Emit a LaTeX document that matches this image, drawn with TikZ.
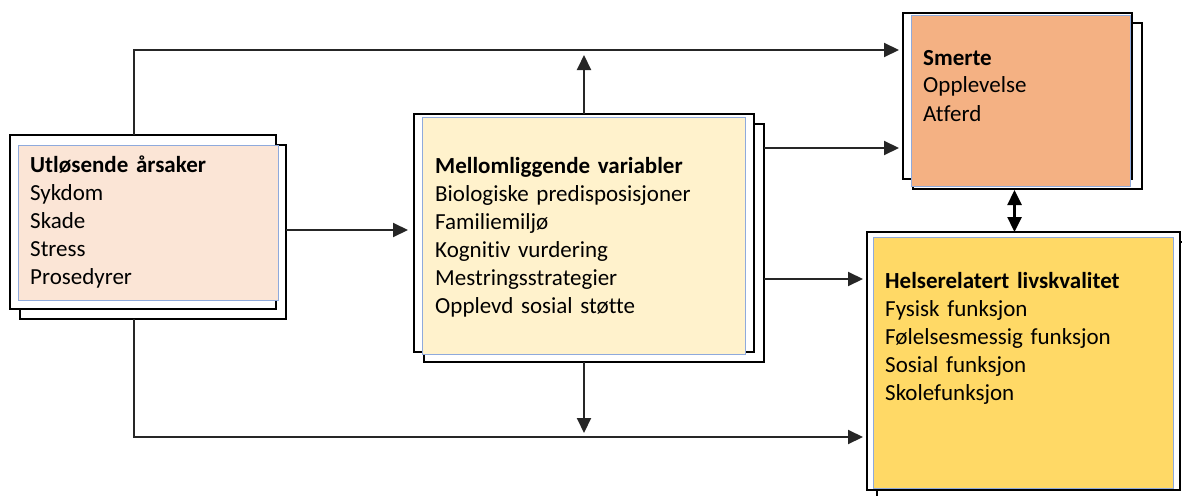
\documentclass[tikz,border=0pt]{standalone}
\usepackage{fontspec}
\setmainfont{Carlito}[Ligatures=NoCommon]
\usetikzlibrary{arrows.meta,calc,shadows}
\definecolor{peachfill}{HTML}{FBE5D6}
\definecolor{creamfill}{HTML}{FFF2CC}
\definecolor{orangefill}{HTML}{F4B183}
\definecolor{goldfill}{HTML}{FFD966}
\definecolor{innerline}{HTML}{8FAADC}

\begin{document}
\begin{tikzpicture}[x=1pt,y=-1pt,
	>={Triangle[length=15pt,width=14pt]},
	frame/.style={draw=black,line width=2.5pt,fill=white,inner sep=0pt,outer sep=0pt,anchor=north west,
		copy shadow={shadow xshift=10pt,shadow yshift=-10pt,line width=2.5pt}},
	inbox/.style={draw=innerline,line width=0.8pt,inner sep=0pt,outer sep=0pt,anchor=north west},
	boxtext/.style={anchor=base west,inner sep=0pt,align=left,text width=300pt,
		font=\fontsize{23}{28}\selectfont},
	conn/.style={draw=black!85,line width=2pt}]
	\useasboundingbox (0,0) rectangle (1182,495);
	\clip (0,0) rectangle (1182,495);

	% boksene
	\node[frame,minimum width=266pt,minimum height=174pt] (arsak) at (10,135) {};
	\node[inbox,fill=peachfill,minimum width=260pt,minimum height=155pt] (arsakF) at ([shift={(8,10)}]arsak.north west) {};
	\node[boxtext] (arsakT) at ([shift={(20,37)}]arsak.north west)
		{\textbf{Utløsende årsaker}\\Sykdom\\Skade\\Stress\\Prosedyrer};

	\node[frame,minimum width=340pt,minimum height=238pt] (mellom) at (414,114) {};
	\node[inbox,fill=creamfill,minimum width=323pt,minimum height=237pt] (mellomF) at ([shift={(8,3)}]mellom.north west) {};
	\node[boxtext] (mellomT) at ([shift={(21,59)}]mellom.north west)
		{\textbf{Mellomliggende variabler}\\Biologiske predisposisjoner\\Familiemiljø\\Kognitiv vurdering\\Mestringsstrategier\\Opplevd sosial støtte};

	\node[frame,minimum width=229pt,minimum height=166pt] (smerte) at (903,13) {};
	\node[inbox,fill=orangefill,minimum width=219pt,minimum height=171pt] (smerteF) at ([shift={(8,2)}]smerte.north west) {};
	\node[boxtext] (smerteT) at ([shift={(20,52)}]smerte.north west)
		{\textbf{Smerte}\\Opplevelse\\Atferd};

	\node[frame,minimum width=313pt,minimum height=258pt] (helse) at (867,232) {};
	\node[inbox,fill=goldfill,minimum width=300pt,minimum height=251pt] (helseF) at ([shift={(6,5)}]helse.north west) {};
	\node[boxtext] (helseT) at ([shift={(18,56)}]helse.north west)
		{\textbf{Helserelatert livskvalitet}\\Fysisk funksjon\\Følelsesmessig funksjon\\Sosial funksjon\\Skolefunksjon};

	% hjelpepunkter for linjene
	\coordinate (topy) at ([yshift=46pt]smerte.west);
	\coordinate (midy) at ([yshift=-52pt]smerte.west);
	\coordinate (loy) at ([yshift=82pt]helse.west);
	\coordinate (boty) at ([yshift=-76pt]helse.west);

	% piler
	\draw[conn,->,shorten >=4pt] ([xshift=-9pt]arsak.north) |- (topy);
	\draw[conn,->,shorten >=4pt] ([xshift=-9pt,yshift=-10pt]arsak.south) |- (boty);
	\draw[conn,->,shorten >=6pt] ($(arsak.east |- mellom.west)+(10,-3)$) -- ($(mellom.west)+(0,-3)$);
	\draw[conn,->,shorten >=5pt] (mellom.north) -- (mellom.north |- topy);
	\draw[conn,->,shorten >=4pt] ([yshift=-10pt]mellom.south) -- (mellom.south |- boty);
	\draw[conn,->,shorten >=4pt] ($(mellom.east |- midy)+(10,0)$) -- (midy);
	\draw[conn,->,shorten >=4pt] ($(mellom.east |- loy)+(10,0)$) -- (loy);
	\draw[conn,<->,draw=black,line width=2.5pt] ([xshift=-3pt,yshift=-11pt]smerte.south) -- ([xshift=-3pt]smerte.south |- helse.north);
\end{tikzpicture}
\end{document}
